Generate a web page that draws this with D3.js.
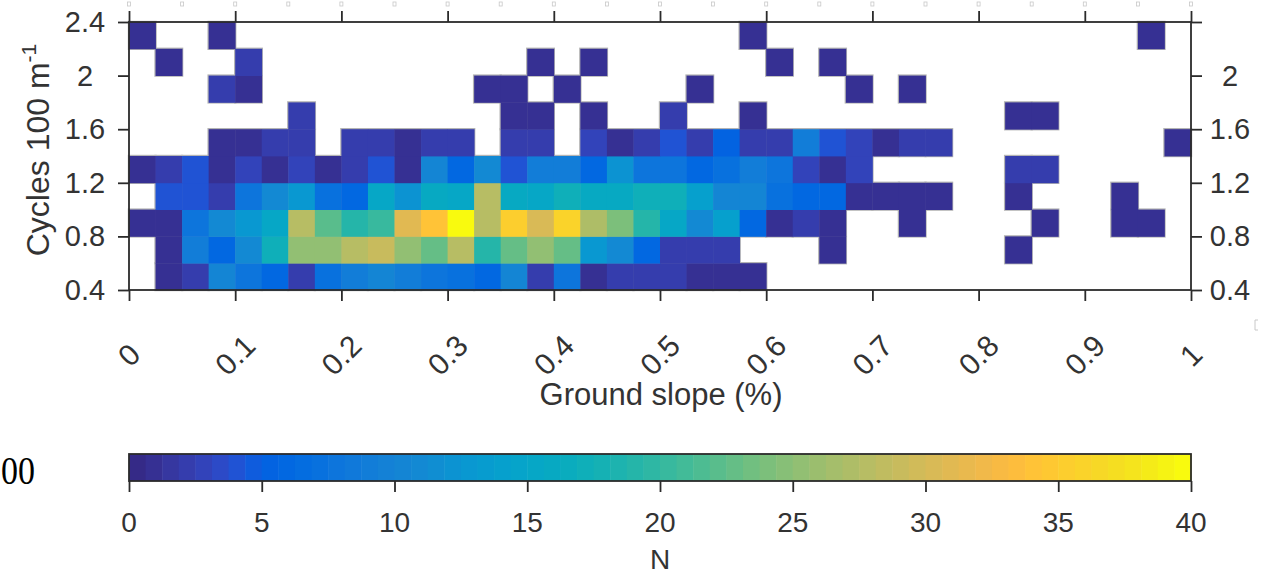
<!DOCTYPE html>
<html>
<head>
<meta charset="utf-8">
<script src="https://cdn.jsdelivr.net/npm/d3@7"></script>
<style>
  html, body { margin: 0; padding: 0; background: #fff; }
  svg { display: block; }
  text { font-family: "Liberation Sans", Arial, sans-serif; }
</style>
</head>
<body>
<script>
// ---------------- DATA ----------------
// x bin starts (ground slope, %), bin width 0.025
const xBinStarts = [0, 0.025, 0.05, 0.075, 0.1, 0.125, 0.15, 0.175, 0.2, 0.225,
  0.25, 0.275, 0.3, 0.325, 0.35, 0.375, 0.4, 0.425, 0.45, 0.475,
  0.5, 0.525, 0.55, 0.575, 0.6, 0.625, 0.65, 0.675, 0.7, 0.725,
  0.75, 0.775, 0.8, 0.825, 0.85, 0.875, 0.9, 0.925, 0.95, 0.975];
const xBinWidth = 0.025;
// y bin starts (cycles per 100 m), bin height 0.2
const yBinStarts = [0.4, 0.6, 0.8, 1.0, 1.2, 1.4, 1.6, 1.8, 2.0, 2.2];
const yBinHeight = 0.2;

// counts N per row (one array per y bin, 40 x bins each)
const counts_0_4 = [0,1,2,10,8,6,2,7,9,10, 9,8,7,6,10,2,8,1,2,2, 2,1,1,1,0,0,0,0,0,0, 0,0,0,0,0,0,0,0,0,0];
const counts_0_6 = [0,1,9,6,11,17,25,25,28,29, 25,23,28,19,23,25,23,13,11,6, 2,2,2,0,0,0,1,0,0,0, 0,0,0,1,0,0,0,0,0,0];
const counts_0_8 = [1,1,8,11,13,15,28,22,19,20, 31,34,40,28,35,30,36,27,24,19, 15,11,14,6,1,2,1,0,0,1, 0,0,0,0,1,0,0,1,1,0];
const counts_1_0 = [0,4,4,2,8,11,13,7,6,15, 12,16,15,28,16,15,17,16,16,17, 17,14,10,10,7,6,6,1,1,1, 1,0,0,1,0,0,0,1,0,0];
const counts_1_2 = [1,2,4,1,3,1,3,1,2,4, 1,10,6,11,4,9,9,6,12,8, 8,6,7,9,8,3,1,3,0,0, 0,0,0,2,2,0,0,0,0,0];
const counts_1_4 = [0,0,0,1,1,2,2,0,2,2, 1,2,2,0,2,2,0,3,1,2, 4,2,5,2,2,9,4,3,1,2, 2,0,0,0,0,0,0,0,0,1];
const counts_1_6 = [0,0,0,0,0,0,2,0,0,0, 0,0,0,0,1,1,0,1,0,0, 2,0,0,1,0,0,0,0,0,0, 0,0,0,1,1,0,0,0,0,0];
const counts_1_8 = [0,0,0,2,1,0,0,0,0,0, 0,0,0,1,1,0,1,0,0,0, 0,1,0,0,0,0,0,1,0,1, 0,0,0,0,0,0,0,0,0,0];
const counts_2_0 = [0,1,0,0,2,0,0,0,0,0, 0,0,0,0,0,1,0,1,0,0, 0,0,0,0,1,0,1,0,0,0, 0,0,0,0,0,0,0,0,0,0];
const counts_2_2 = [1,0,0,1,0,0,0,0,0,0, 0,0,0,0,0,0,0,0,0,0, 0,0,0,1,0,0,0,0,0,0, 0,0,0,0,0,0,0,0,1,0];
const countRows = [counts_0_4, counts_0_6, counts_0_8, counts_1_0, counts_1_2,
                   counts_1_4, counts_1_6, counts_1_8, counts_2_0, counts_2_2];

// tick labels
const xTicks = [0, 0.1, 0.2, 0.3, 0.4, 0.5, 0.6, 0.7, 0.8, 0.9, 1];
const xTickLabels = ["0", "0.1", "0.2", "0.3", "0.4", "0.5", "0.6", "0.7", "0.8", "0.9", "1"];
const xFaintMarks = [0, 0.05, 0.1, 0.15, 0.2, 0.25, 0.3, 0.35, 0.4, 0.45, 0.5,
                     0.55, 0.6, 0.65, 0.7, 0.75, 0.8, 0.85, 0.9, 0.95, 1];
const yTicks = [0.4, 0.8, 1.2, 1.6, 2.0, 2.4];
const yTickLabelsLeft = ["0.4", "0.8", "1.2", "1.6", "2", "2.4"];
const yTickLabelsRight = ["0.4", "0.8", "1.2", "1.6", "2", ""];
const cbTicks = [0, 5, 10, 15, 20, 25, 30, 35, 40];
const cbTickLabels = ["0", "5", "10", "15", "20", "25", "30", "35", "40"];
const cbDomain = [0, 40];

// parula (64 colours)
const parula64 = ["#352a87","#363093","#3637a0","#353dad","#3243ba","#2c4ac7","#2053d4","#0f5cdd",
"#0363e1","#0268e1","#046de0","#0871de","#0d75dc","#1079da","#127dd8","#1481d6",
"#1485d4","#1389d3","#108ed2","#0c93d2","#0998d1","#079ccf","#06a0cd","#06a4ca",
"#06a7c6","#07a9c2","#0aacbe","#0fafb9","#15b1b4","#1db3af","#25b5a9","#2eb7a4",
"#38b99e","#42bb98","#4dbc92","#59bd8c","#65be86","#71bf80","#7cbf7b","#87bf77",
"#92bf73","#9bbe6e","#a5be6b","#aebd67","#b7bd64","#c0bc60","#c8bb5d","#d1bb59",
"#d9ba56","#e1b952","#e9b94e","#f1b94a","#f8ba43","#fdbd3d","#ffc337","#fec832",
"#fcce2e","#fad32a","#f7d826","#f5de21","#f5e41d","#f5eb18","#f6f313","#f9fa0e"];

// ---------------- DRAW ----------------
const W = 1269, H = 578;
const svg = d3.select("body").append("svg").attr("width", W).attr("height", H);
svg.append("rect").attr("width", W).attr("height", H).attr("fill", "#fff");

const plot = {left: 129, right: 1191, top: 22, bottom: 290};
const x = d3.scaleLinear().domain([0, 1]).range([plot.left, plot.right]);
const y = d3.scaleLinear().domain([0.4, 2.4]).range([plot.bottom, plot.top]);
const color = d3.scaleQuantize().domain(cbDomain).range(parula64);
const axisColor = "#2b2b2b";
const textColor = "#333";

// faint marks from the panel above (cropped)
svg.append("g").selectAll("rect").data(xFaintMarks).join("rect")
  .attr("x", d => x(d) - 1.5).attr("y", 2).attr("width", 3).attr("height", 4)
  .attr("fill", "none").attr("stroke", "#c8c8c8").attr("stroke-width", 0.8);

// cells
const cells = [];
countRows.forEach((row, r) => row.forEach((v, c) => {
  if (v > 0) cells.push({x0: xBinStarts[c], y0: yBinStarts[r], v});
}));
const cellG = svg.append("g");
// grey outline underlay (visible only against white)
cellG.selectAll("rect.edge").data(cells).join("rect").attr("class", "edge")
  .attr("x", d => x(d.x0)).attr("y", d => y(d.y0 + yBinHeight))
  .attr("width", d => x(d.x0 + xBinWidth) - x(d.x0))
  .attr("height", d => y(d.y0) - y(d.y0 + yBinHeight))
  .attr("fill", "#b4b4b4").attr("stroke", "#b4b4b4").attr("stroke-width", 2.4);
cellG.selectAll("rect.cell").data(cells).join("rect").attr("class", "cell")
  .attr("x", d => x(d.x0)).attr("y", d => y(d.y0 + yBinHeight))
  .attr("width", d => x(d.x0 + xBinWidth) - x(d.x0) + 0.4)
  .attr("height", d => y(d.y0) - y(d.y0 + yBinHeight) + 0.4)
  .attr("fill", d => color(d.v));

// frame
svg.append("rect").attr("x", plot.left).attr("y", plot.top)
  .attr("width", plot.right - plot.left).attr("height", plot.bottom - plot.top)
  .attr("fill", "none").attr("stroke", axisColor).attr("stroke-width", 1.8);

const tickLen = 11;
// bottom axis
const xAxisB = d3.axisBottom(x).tickValues(xTicks).tickSize(tickLen).tickFormat("");
svg.append("g").attr("transform", `translate(0,${plot.bottom})`).call(xAxisB)
  .call(g => g.select(".domain").remove())
  .call(g => g.selectAll("line").attr("stroke", axisColor).attr("stroke-width", 1.8));
// top axis
const xAxisT = d3.axisTop(x).tickValues(xTicks).tickSize(tickLen).tickFormat("");
svg.append("g").attr("transform", `translate(0,${plot.top})`).call(xAxisT)
  .call(g => g.select(".domain").remove())
  .call(g => g.selectAll("line").attr("stroke", axisColor).attr("stroke-width", 1.8));
// left axis
const yAxisL = d3.axisLeft(y).tickValues(yTicks).tickSize(tickLen).tickFormat("");
svg.append("g").attr("transform", `translate(${plot.left},0)`).call(yAxisL)
  .call(g => g.select(".domain").remove())
  .call(g => g.selectAll("line").attr("stroke", axisColor).attr("stroke-width", 1.8));
// right axis
const yAxisR = d3.axisRight(y).tickValues(yTicks).tickSize(tickLen).tickFormat("");
svg.append("g").attr("transform", `translate(${plot.right},0)`).call(yAxisR)
  .call(g => g.select(".domain").remove())
  .call(g => g.selectAll("line").attr("stroke", axisColor).attr("stroke-width", 1.8));

// x tick labels (rotated 45)
svg.append("g").selectAll("text").data(xTicks).join("text")
  .attr("transform", (d) => `translate(${x(d)},355) rotate(-45)`)
  .attr("text-anchor", "middle").attr("dominant-baseline", "central")
  .attr("font-size", 30).attr("fill", textColor)
  .text((d, i) => xTickLabels[i]);

// y tick labels left
svg.append("g").selectAll("text").data(yTicks).join("text")
  .attr("x", 85).attr("y", d => y(d))
  .attr("text-anchor", "middle").attr("dominant-baseline", "central")
  .attr("font-size", 29).attr("fill", textColor)
  .text((d, i) => yTickLabelsLeft[i]);
// y tick labels right
svg.append("g").selectAll("text").data(yTicks).join("text")
  .attr("x", 1230).attr("y", d => y(d))
  .attr("text-anchor", "middle").attr("dominant-baseline", "central")
  .attr("font-size", 29).attr("fill", textColor)
  .text((d, i) => yTickLabelsRight[i]);

// axis titles
svg.append("text").attr("x", 661).attr("y", 405).attr("text-anchor", "middle")
  .attr("font-size", 31).attr("fill", textColor).text("Ground slope (%)");
const yl = svg.append("text").attr("transform", "translate(49,150) rotate(-90)")
  .attr("text-anchor", "middle").attr("font-size", 32).attr("fill", textColor);
yl.append("tspan").text("Cycles 100 m");
yl.append("tspan").attr("font-size", 21).attr("dy", -13).text("-1");

// colorbar
const cb = {left: 129, right: 1191, top: 454, bottom: 481};
const cbx = d3.scaleLinear().domain(cbDomain).range([cb.left, cb.right]);
const step = (cbDomain[1] - cbDomain[0]) / parula64.length;
svg.append("g").selectAll("rect").data(parula64).join("rect")
  .attr("x", (d, i) => cbx(i * step)).attr("y", cb.top)
  .attr("width", (d, i) => cbx((i + 1) * step) - cbx(i * step) + 0.5)
  .attr("height", cb.bottom - cb.top).attr("fill", d => d);
svg.append("rect").attr("x", cb.left).attr("y", cb.top)
  .attr("width", cb.right - cb.left).attr("height", cb.bottom - cb.top)
  .attr("fill", "none").attr("stroke", axisColor).attr("stroke-width", 1.8);
const cbAxis = d3.axisBottom(cbx).tickValues(cbTicks).tickSize(11).tickFormat("");
svg.append("g").attr("transform", `translate(0,${cb.bottom})`).call(cbAxis)
  .call(g => g.select(".domain").remove())
  .call(g => g.selectAll("line").attr("stroke", axisColor).attr("stroke-width", 1.8));
svg.append("g").selectAll("text").data(cbTicks).join("text")
  .attr("x", d => cbx(d)).attr("y", 532).attr("text-anchor", "middle")
  .attr("font-size", 28).attr("fill", textColor)
  .text((d, i) => cbTickLabels[i]);
svg.append("text").attr("x", 660).attr("y", 569).attr("text-anchor", "middle")
  .attr("font-size", 28).attr("fill", textColor).text("N");

// small faint bracket mark at right
svg.append("path").attr("d", "M1258,320 h-3 v10 h3")
  .attr("fill", "none").attr("stroke", "#c8c8c8").attr("stroke-width", 1);

// cut-off text at left edge from neighbouring figure (serif)
svg.append("text").attr("transform", "translate(1,484) scale(0.85,1)")
  .attr("text-anchor", "start")
  .style("font-family", "'Liberation Serif', 'DejaVu Serif', serif")
  .attr("font-size", 40).attr("fill", "#000").text("00");
</script>
</body>
</html>
